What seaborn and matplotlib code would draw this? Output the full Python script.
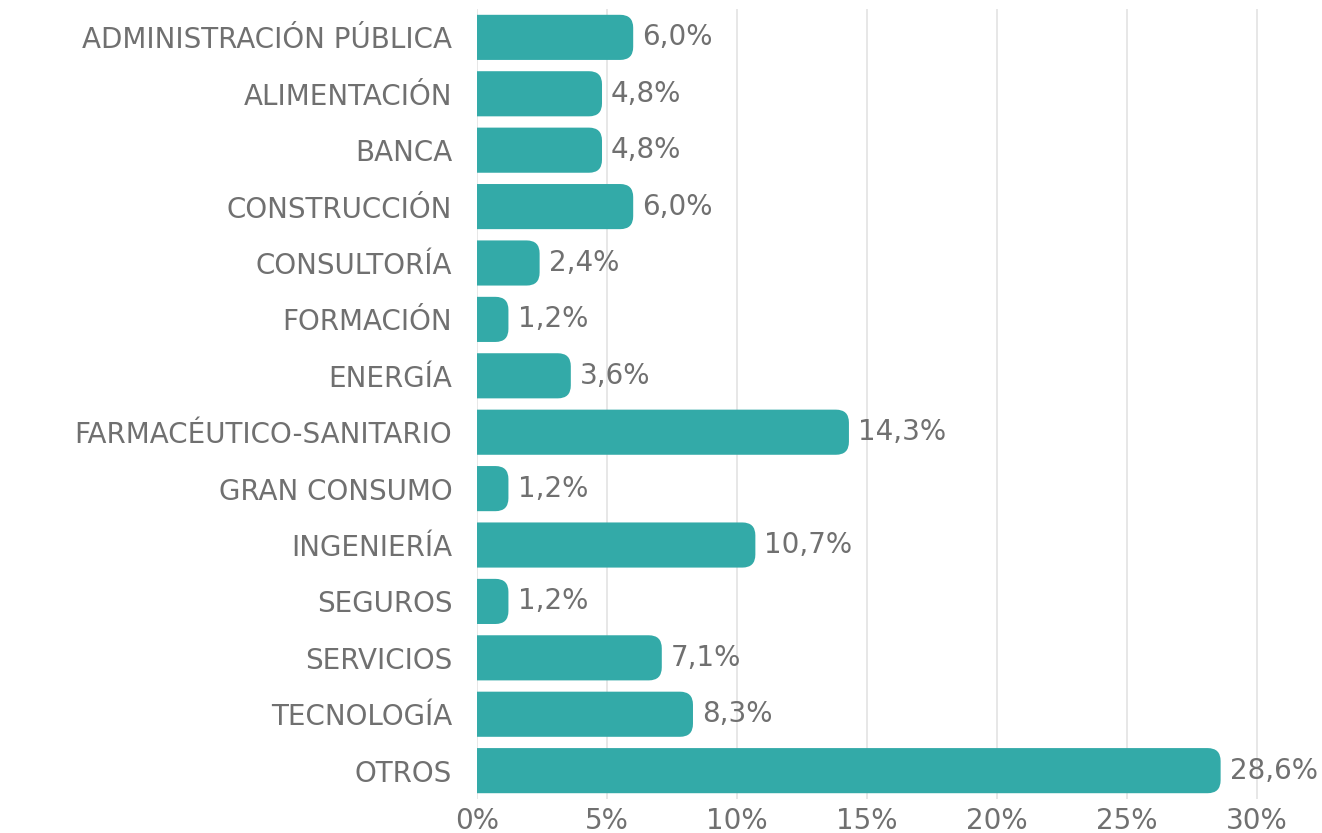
import matplotlib
matplotlib.use("Agg")
import matplotlib.pyplot as plt
import seaborn as sns
import pandas as pd
from matplotlib.patches import FancyBboxPatch

# data
sectors = ["ADMINISTRACIÓN PÚBLICA", "ALIMENTACIÓN", "BANCA", "CONSTRUCCIÓN",
           "CONSULTORÍA", "FORMACIÓN", "ENERGÍA", "FARMACÉUTICO-SANITARIO",
           "GRAN CONSUMO", "INGENIERÍA", "SEGUROS", "SERVICIOS",
           "TECNOLOGÍA", "OTROS"]
percent = [6.0, 4.8, 4.8, 6.0, 2.4, 1.2, 3.6, 14.3, 1.2, 10.7, 1.2, 7.1, 8.3, 28.6]
x_ticks = [0, 5, 10, 15, 20, 25, 30]

df = pd.DataFrame({"sector": sectors, "pct": percent})

sns.set_theme(style="white")
plt.rcParams['font.family'] = ['DejaVu Sans']

teal = "#33aaa8"
grey_txt = "#707070"

fig = plt.figure(figsize=(13.22, 8.33), dpi=100)
ax = fig.add_axes([0.361, 0.041, 0.639, 0.948])

sns.barplot(data=df, x="pct", y="sector", color=teal, saturation=1,
            width=0.8, ax=ax, zorder=3)

ax.set_xlim(0, 32.5)
ax.set_xticks(x_ticks)
ax.set_xticklabels([f"{t}%" for t in x_ticks])
ax.grid(axis="x", color="#e3e3e3", linewidth=1.2, zorder=0)
ax.set_axisbelow(True)
for s in ax.spines.values():
    s.set_visible(False)
ax.set_xlabel("")
ax.set_ylabel("")
ax.tick_params(axis="y", length=0, pad=18, labelsize=20, labelcolor=grey_txt)
ax.tick_params(axis="x", length=0, pad=6, labelsize=20, labelcolor=grey_txt)

# rounded right ends on the bars (left side starts below 0 and gets clipped)
fig.canvas.draw()
px_x = ax.transData.transform((1, 0))[0] - ax.transData.transform((0, 0))[0]
px_y = abs(ax.transData.transform((0, 1))[1] - ax.transData.transform((0, 0))[1])
aspect = px_x / px_y
r = 0.5  # rounding in x data units
for p in list(ax.patches):
    x0, y0 = p.get_x(), p.get_y()
    w, h = p.get_width(), p.get_height()
    p.remove()
    ax.add_patch(FancyBboxPatch((x0 - 1, y0), w + 1, h,
                                boxstyle=f"round,pad=0,rounding_size={r}",
                                mutation_aspect=aspect,
                                facecolor=teal, edgecolor="none", zorder=3))

for i, v in enumerate(percent):
    ax.text(v + 0.35, i, f"{v:.1f}".replace(".", ",") + "%",
            va="center", ha="left", fontsize=20, color=grey_txt)

fig.savefig("out.png", dpi=100)
